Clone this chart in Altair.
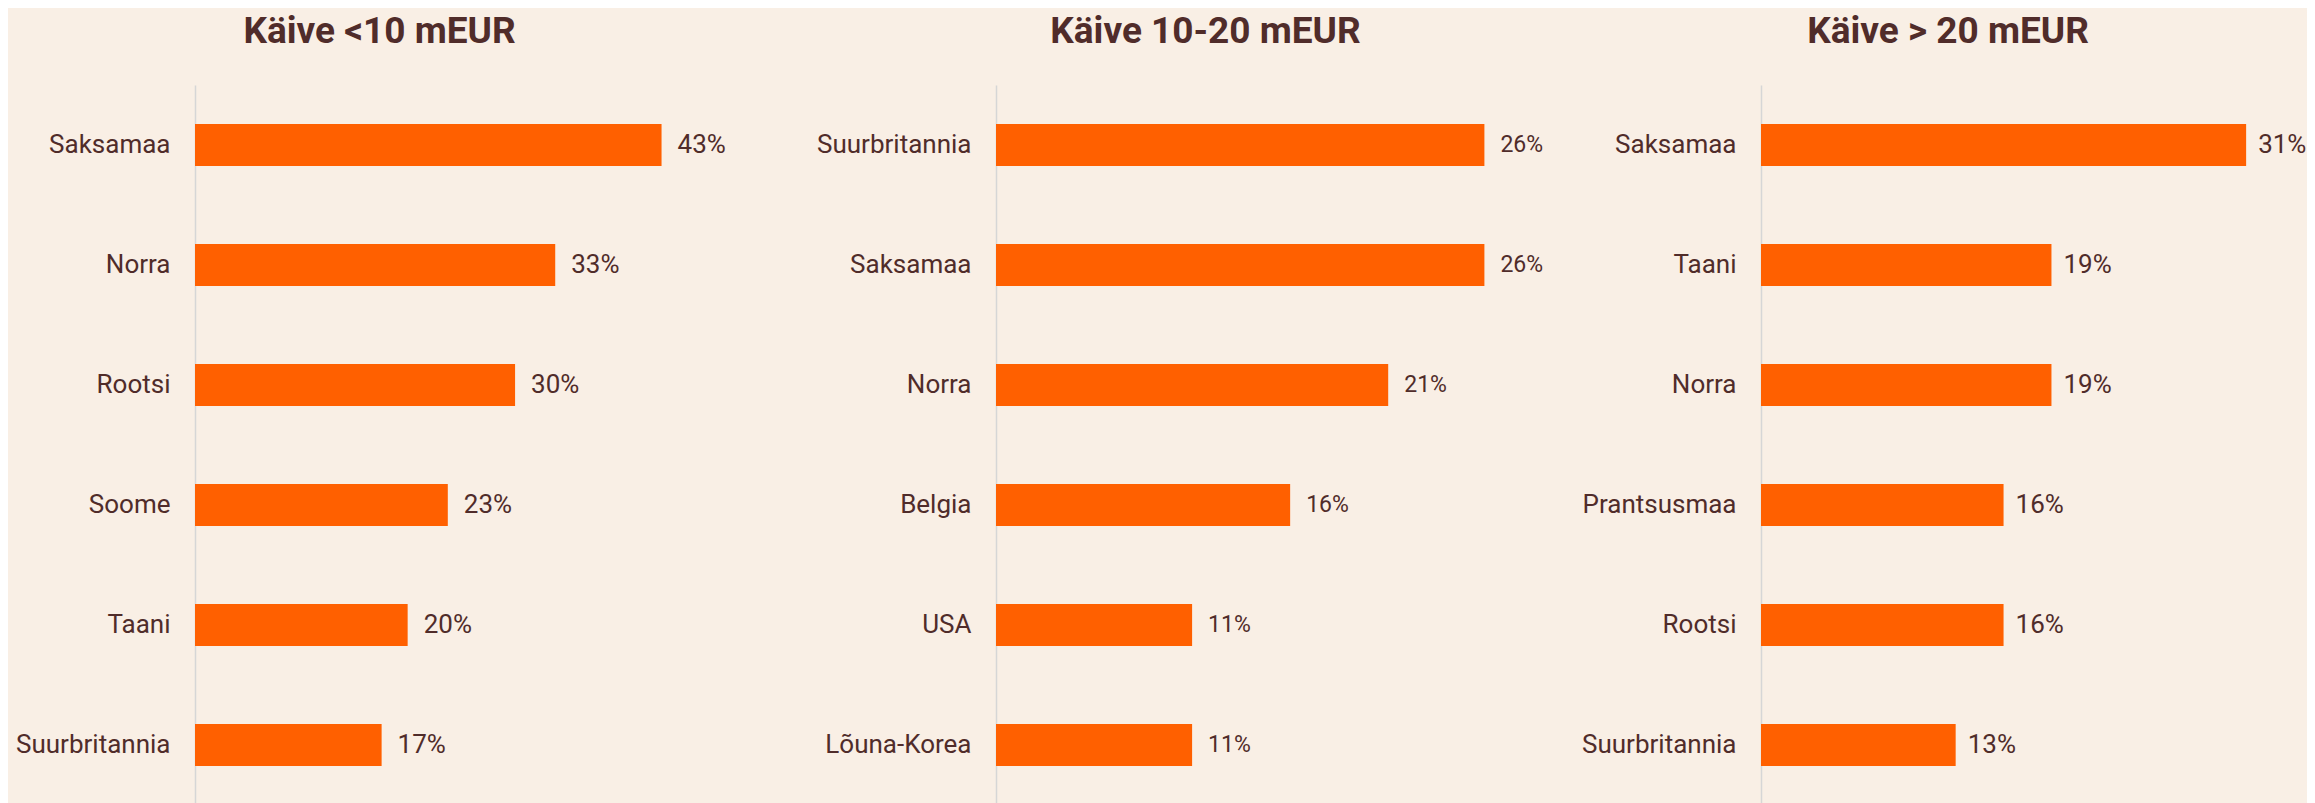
import altair as alt
import pandas as pd

# ---- data ----
titles = ["Käive <10 mEUR", "Käive 10-20 mEUR", "Käive > 20 mEUR"]

cats1 = ["Saksamaa", "Norra", "Rootsi", "Soome", "Taani", "Suurbritannia"]
vals1 = [43.0, 33.2, 29.5, 23.3, 19.6, 17.2]
labels1 = ["43%", "33%", "30%", "23%", "20%", "17%"]

cats2 = ["Suurbritannia", "Saksamaa", "Norra", "Belgia", "USA", "Lõuna-Korea"]
vals2 = [26.4, 26.4, 21.2, 15.9, 10.6, 10.6]
labels2 = ["26%", "26%", "21%", "16%", "11%", "11%"]

cats3 = ["Saksamaa", "Taani", "Norra", "Prantsusmaa", "Rootsi", "Suurbritannia"]
vals3 = [31.4, 18.8, 18.8, 15.7, 15.7, 12.6]
labels3 = ["31%", "19%", "19%", "16%", "16%", "13%"]

BG = "#f9efe5"
ORANGE = "#ff6000"
TEXT = "#502c2a"
AXIS = "#d6d6d6"
FONT = "Roboto"


def panel(cats, vals, labels, title, width, xmax, label_size, label_dx, title_dx):
    df = pd.DataFrame({"land": cats, "share": vals, "label": labels})
    y = alt.Y(
        "land:N",
        sort=cats,
        title=None,
        scale=alt.Scale(paddingInner=0.65, paddingOuter=0.325),
        axis=alt.Axis(
            domain=True,
            domainColor=AXIS,
            domainWidth=1.5,
            ticks=False,
            grid=False,
            labelPadding=25,
            labelFontSize=26,
            labelFont=FONT,
            labelColor=TEXT,
            labelLimit=400,
            minExtent=182,
            maxExtent=182,
        ),
    )
    x = alt.X(
        "share:Q",
        scale=alt.Scale(domain=[0, xmax], nice=False, zero=True),
        axis=None,
    )
    bars = alt.Chart(df).mark_bar(color=ORANGE).encode(x=x, y=y)
    text = (
        alt.Chart(df)
        .mark_text(
            align="left",
            baseline="middle",
            dx=label_dx,
            font=FONT,
            fontSize=label_size,
            color=TEXT,
        )
        .encode(x=x, y=y, text="label:N")
    )
    return alt.layer(bars, text).properties(
        width=width,
        height=720,
        title=alt.TitleParams(
            text=title,
            font=FONT,
            fontSize=37,
            fontWeight="bold",
            color=TEXT,
            anchor="middle",
            frame="group",
            dx=title_dx,
            offset=34,
        ),
    )


p1 = panel(cats1, vals1, labels1, titles[0], 619, 619 / 10.85, 26, 16, -125)
p2 = panel(cats2, vals2, labels2, titles[1], 583, 583 / 18.5, 23, 16, -82)
p3 = panel(cats3, vals3, labels3, titles[2], 546, 546 / 15.45, 26, 12, -86)

chart = (
    alt.hconcat(p1, p2, p3, spacing=0)
    .properties(padding={"left": 5, "top": 5, "right": 0, "bottom": 5})
    .configure(background=BG)
    .configure_view(stroke=None)
)

chart.save("out.html", embed_options={"renderer": "svg", "actions": False})
